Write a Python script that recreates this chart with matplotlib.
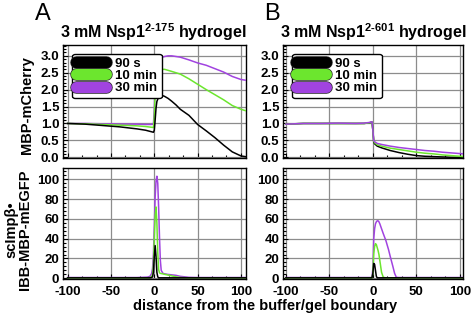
import matplotlib
matplotlib.use("Agg")
import matplotlib.pyplot as plt
from matplotlib.lines import Line2D
from matplotlib.ticker import MultipleLocator, AutoMinorLocator
import matplotlib.patheffects as pe

plt.rcParams['font.family'] = ['Liberation Sans', 'DejaVu Sans']
plt.rcParams['font.weight'] = 'bold'
plt.rcParams['axes.unicode_minus'] = False
plt.rcParams['mathtext.fontset'] = 'custom'
plt.rcParams['mathtext.rm'] = 'Liberation Sans:bold'
plt.rcParams['mathtext.bf'] = 'Liberation Sans:bold'

BLACK = '#000000'
GREEN = '#6ce62e'
PURPLE = '#a143e0'

labels = ['90 s', '10 min', '30 min']

# panel A, MBP-mCherry
xa_top = [-100, -80, -60, -40, -20, -10, -4, -1, 0, 1, 2, 3, 5, 8, 12, 16, 20,
          25, 30, 40, 50, 60, 70, 80, 90, 100, 105]
a_top_90s = [1.00, 0.98, 0.94, 0.90, 0.84, 0.80, 0.76, 0.74, 0.80, 1.10, 1.45,
             1.65, 1.78, 1.84, 1.80, 1.74, 1.66, 1.55, 1.42, 1.24, 0.97, 0.78,
             0.58, 0.36, 0.16, 0.04, 0.02]
a_top_10m = [1.00, 0.99, 0.97, 0.95, 0.93, 0.91, 0.89, 0.88, 1.20, 1.90, 2.30,
             2.45, 2.55, 2.60, 2.60, 2.57, 2.54, 2.50, 2.46, 2.32, 2.16, 2.00,
             1.85, 1.70, 1.53, 1.42, 1.38]
a_top_30m = [1.00, 1.00, 0.99, 0.98, 0.98, 0.97, 0.97, 0.98, 1.40, 2.30, 2.70,
             2.85, 2.90, 2.95, 2.98, 3.00, 3.00, 2.98, 2.96, 2.88, 2.79, 2.72,
             2.62, 2.52, 2.39, 2.30, 2.28]

# panel B, MBP-mCherry
xb_top = [-100, -80, -60, -40, -20, -10, -4, -1, 0, 1, 2, 5, 10, 20, 30, 40,
          50, 60, 70, 80, 90, 100, 105]
b_top_90s = [0.98, 1.00, 1.00, 1.00, 1.00, 1.00, 1.02, 1.04, 0.80, 0.45, 0.40,
             0.33, 0.28, 0.20, 0.14, 0.09, 0.05, 0.03, 0.02, 0.01, 0.00, 0.00,
             0.00]
b_top_10m = [0.98, 1.00, 1.00, 1.00, 1.00, 1.00, 1.02, 1.04, 0.80, 0.48, 0.43,
             0.37, 0.33, 0.27, 0.23, 0.19, 0.15, 0.12, 0.10, 0.07, 0.05, 0.03,
             0.02]
b_top_30m = [0.98, 1.00, 1.00, 1.01, 1.00, 1.01, 1.03, 1.05, 0.80, 0.50, 0.46,
             0.41, 0.38, 0.33, 0.29, 0.26, 0.23, 0.20, 0.18, 0.15, 0.13, 0.11,
             0.10]

# panel A, scImpb-IBB-MBP-mEGFP
xa_bot = [-100, -50, -20, -8, -5, -3, -2, -1, 0, 1, 2, 3, 4, 5, 6, 7, 8, 10,
          12, 15, 20, 25, 30, 40, 50, 105]
a_bot_90s = [0.5, 0.5, 0.5, 0.5, 0.5, 0.8, 1.5, 6, 22, 33, 22, 6, 1.5, 0.5,
             0.5, 0.5, 0.5, 0.5, 0.5, 0.5, 0.5, 0.5, 0.5, 0.5, 0.5, 0.5]
a_bot_10m = [0.5, 0.5, 0.5, 0.5, 0.8, 1.5, 4, 14, 40, 64, 72, 56, 26, 9, 5.5,
             5, 4.8, 4.5, 4, 3.5, 2.5, 1.5, 0.8, 0.5, 0.5, 0.5]
a_bot_30m = [0.8, 0.8, 0.8, 1.2, 2, 5, 10, 24, 52, 82, 98, 103, 96, 72, 42,
             18, 8, 5, 4.5, 4, 3.5, 3, 2, 1, 0.8, 0.8]

# panel B, scImpb-IBB-MBP-mEGFP
xb_bot = [-100, -50, -5, -1, 0, 1, 2, 3, 4, 5, 6, 7, 8, 10, 12, 15, 18, 20,
          23, 25, 27, 30, 50, 105]
b_bot_90s = [0.5, 0.5, 0.5, 0.5, 5, 15, 14, 8, 2, 0.5, 0.5, 0.5, 0.5, 0.5,
             0.5, 0.5, 0.5, 0.5, 0.5, 0.5, 0.5, 0.5, 0.5, 0.5]
b_bot_10m = [0.5, 0.5, 0.5, 0.5, 5, 25, 32, 35, 34, 31, 28, 24, 18, 6, 1,
             0.5, 0.5, 0.5, 0.5, 0.5, 0.5, 0.5, 0.5, 0.5]
b_bot_30m = [0.8, 0.8, 0.8, 0.8, 10, 40, 50, 55, 57, 58, 58, 57, 55, 50, 45,
             38, 29, 22, 12, 5, 1, 0.8, 0.8, 0.8]


def style_axes(ax, top):
    ax.tick_params(which='both', direction='in', top=False, right=False,
                   labelsize=9.5, width=0.8)
    ax.tick_params(which='major', length=3.5)
    ax.tick_params(which='minor', length=2)
    ax.tick_params(axis='x', pad=5)
    ax.tick_params(axis='y', pad=3)
    ax.xaxis.set_major_locator(MultipleLocator(50))
    ax.xaxis.set_minor_locator(AutoMinorLocator(3))
    ax.yaxis.set_minor_locator(AutoMinorLocator(5))
    if top:
        ax.set_ylim(-0.03, 3.32)
        ax.yaxis.set_major_locator(MultipleLocator(0.5))
        ax.yaxis.set_major_formatter('{x:.1f}')
        ax.tick_params(axis='x', labelbottom=False)
    else:
        ax.set_ylim(-1, 111)
        ax.yaxis.set_major_locator(MultipleLocator(20))
    ax.grid(True, which='major', color='#8c8c8c', lw=0.9)
    ax.set_axisbelow(True)
    for sp in ax.spines.values():
        sp.set_linewidth(1.0)
    for lab in ax.get_xticklabels() + ax.get_yticklabels():
        lab.set_fontweight('bold')


def add_legend(ax):
    handles = []
    for c in [BLACK, GREEN, PURPLE]:
        h = Line2D([0], [0], color=c, lw=8, solid_capstyle='round',
                   path_effects=[pe.Stroke(linewidth=9, foreground='#222222'),
                                 pe.Normal()])
        handles.append(h)
    leg = ax.legend(handles, labels, loc='upper left', fontsize=9.5,
                    handlelength=2.3, handletextpad=0.7, labelspacing=0.0,
                    borderpad=0.3, borderaxespad=0.65, fancybox=True,
                    framealpha=1, edgecolor='black')
    leg.get_frame().set_linewidth(1.0)
    for t in leg.get_texts():
        t.set_fontweight('bold')


fig = plt.figure(figsize=(4.72, 3.18), dpi=100)
W, H = 472.0, 318.0


def add_ax(x0, x1, y0, y1):
    return fig.add_axes([x0 / W, 1 - y1 / H, (x1 - x0) / W, (y1 - y0) / H])


axA1 = add_ax(63.3, 245.7, 45.0, 158.3)
axA2 = add_ax(63.3, 245.7, 168.3, 279.3)
axB1 = add_ax(283.3, 463.3, 45.0, 158.3)
axB2 = add_ax(283.3, 463.3, 168.3, 279.3)

lw = 1.1
axA1.plot(xa_top, a_top_90s, color=BLACK, lw=lw, zorder=5)
axA1.plot(xa_top, a_top_10m, color=GREEN, lw=lw, zorder=4)
axA1.plot(xa_top, a_top_30m, color=PURPLE, lw=lw, zorder=3)
axB1.plot(xb_top, b_top_90s, color=BLACK, lw=lw, zorder=3)
axB1.plot(xb_top, b_top_10m, color=GREEN, lw=lw, zorder=4)
axB1.plot(xb_top, b_top_30m, color=PURPLE, lw=lw, zorder=5)
axA2.plot(xa_bot, a_bot_30m, color=PURPLE, lw=lw, zorder=3)
axA2.plot(xa_bot, a_bot_10m, color=GREEN, lw=lw, zorder=4)
axA2.plot(xa_bot, a_bot_90s, color=BLACK, lw=lw, zorder=5)
axB2.plot(xb_bot, b_bot_30m, color=PURPLE, lw=lw, zorder=3)
axB2.plot(xb_bot, b_bot_10m, color=GREEN, lw=lw, zorder=4)
axB2.plot(xb_bot, b_bot_90s, color=BLACK, lw=lw, zorder=5)

for ax in (axA1, axA2):
    ax.set_xlim(-105, 105.5)
for ax in (axB1, axB2):
    ax.set_xlim(-103, 104)
for ax in (axA1, axB1):
    style_axes(ax, True)
    add_legend(ax)
for ax in (axA2, axB2):
    style_axes(ax, False)

fig.text(43 / W, 1 - 14 / H, 'A', fontsize=17, fontweight='normal',
         ha='center', va='center')
fig.text(272 / W, 1 - 14 / H, 'B', fontsize=17, fontweight='normal',
         ha='center', va='center')
fig.text(153 / W, 1 - 32 / H, r'3 mM Nsp1$^{\text{2-175}}$ hydrogel',
         fontsize=11.5, fontweight='bold', ha='center', va='center')
fig.text(373 / W, 1 - 32 / H, r'3 mM Nsp1$^{\text{2-601}}$ hydrogel',
         fontsize=11.5, fontweight='bold', ha='center', va='center')
fig.text(27 / W, 1 - 105 / H, 'MBP-mCherry', rotation=90, fontsize=10.5,
         fontweight='bold', ha='center', va='center')
fig.text(18 / W, 1 - 230 / H, 'scImpβ•\nIBB-MBP-mEGFP', rotation=90,
         fontsize=10.5, fontweight='bold', ha='center', va='center',
         linespacing=1.0)
fig.text(265 / W, 1 - 306 / H, 'distance from the buffer/gel boundary',
         fontsize=10.5, fontweight='bold', ha='center', va='center')

fig.savefig('out.png', dpi=100)
